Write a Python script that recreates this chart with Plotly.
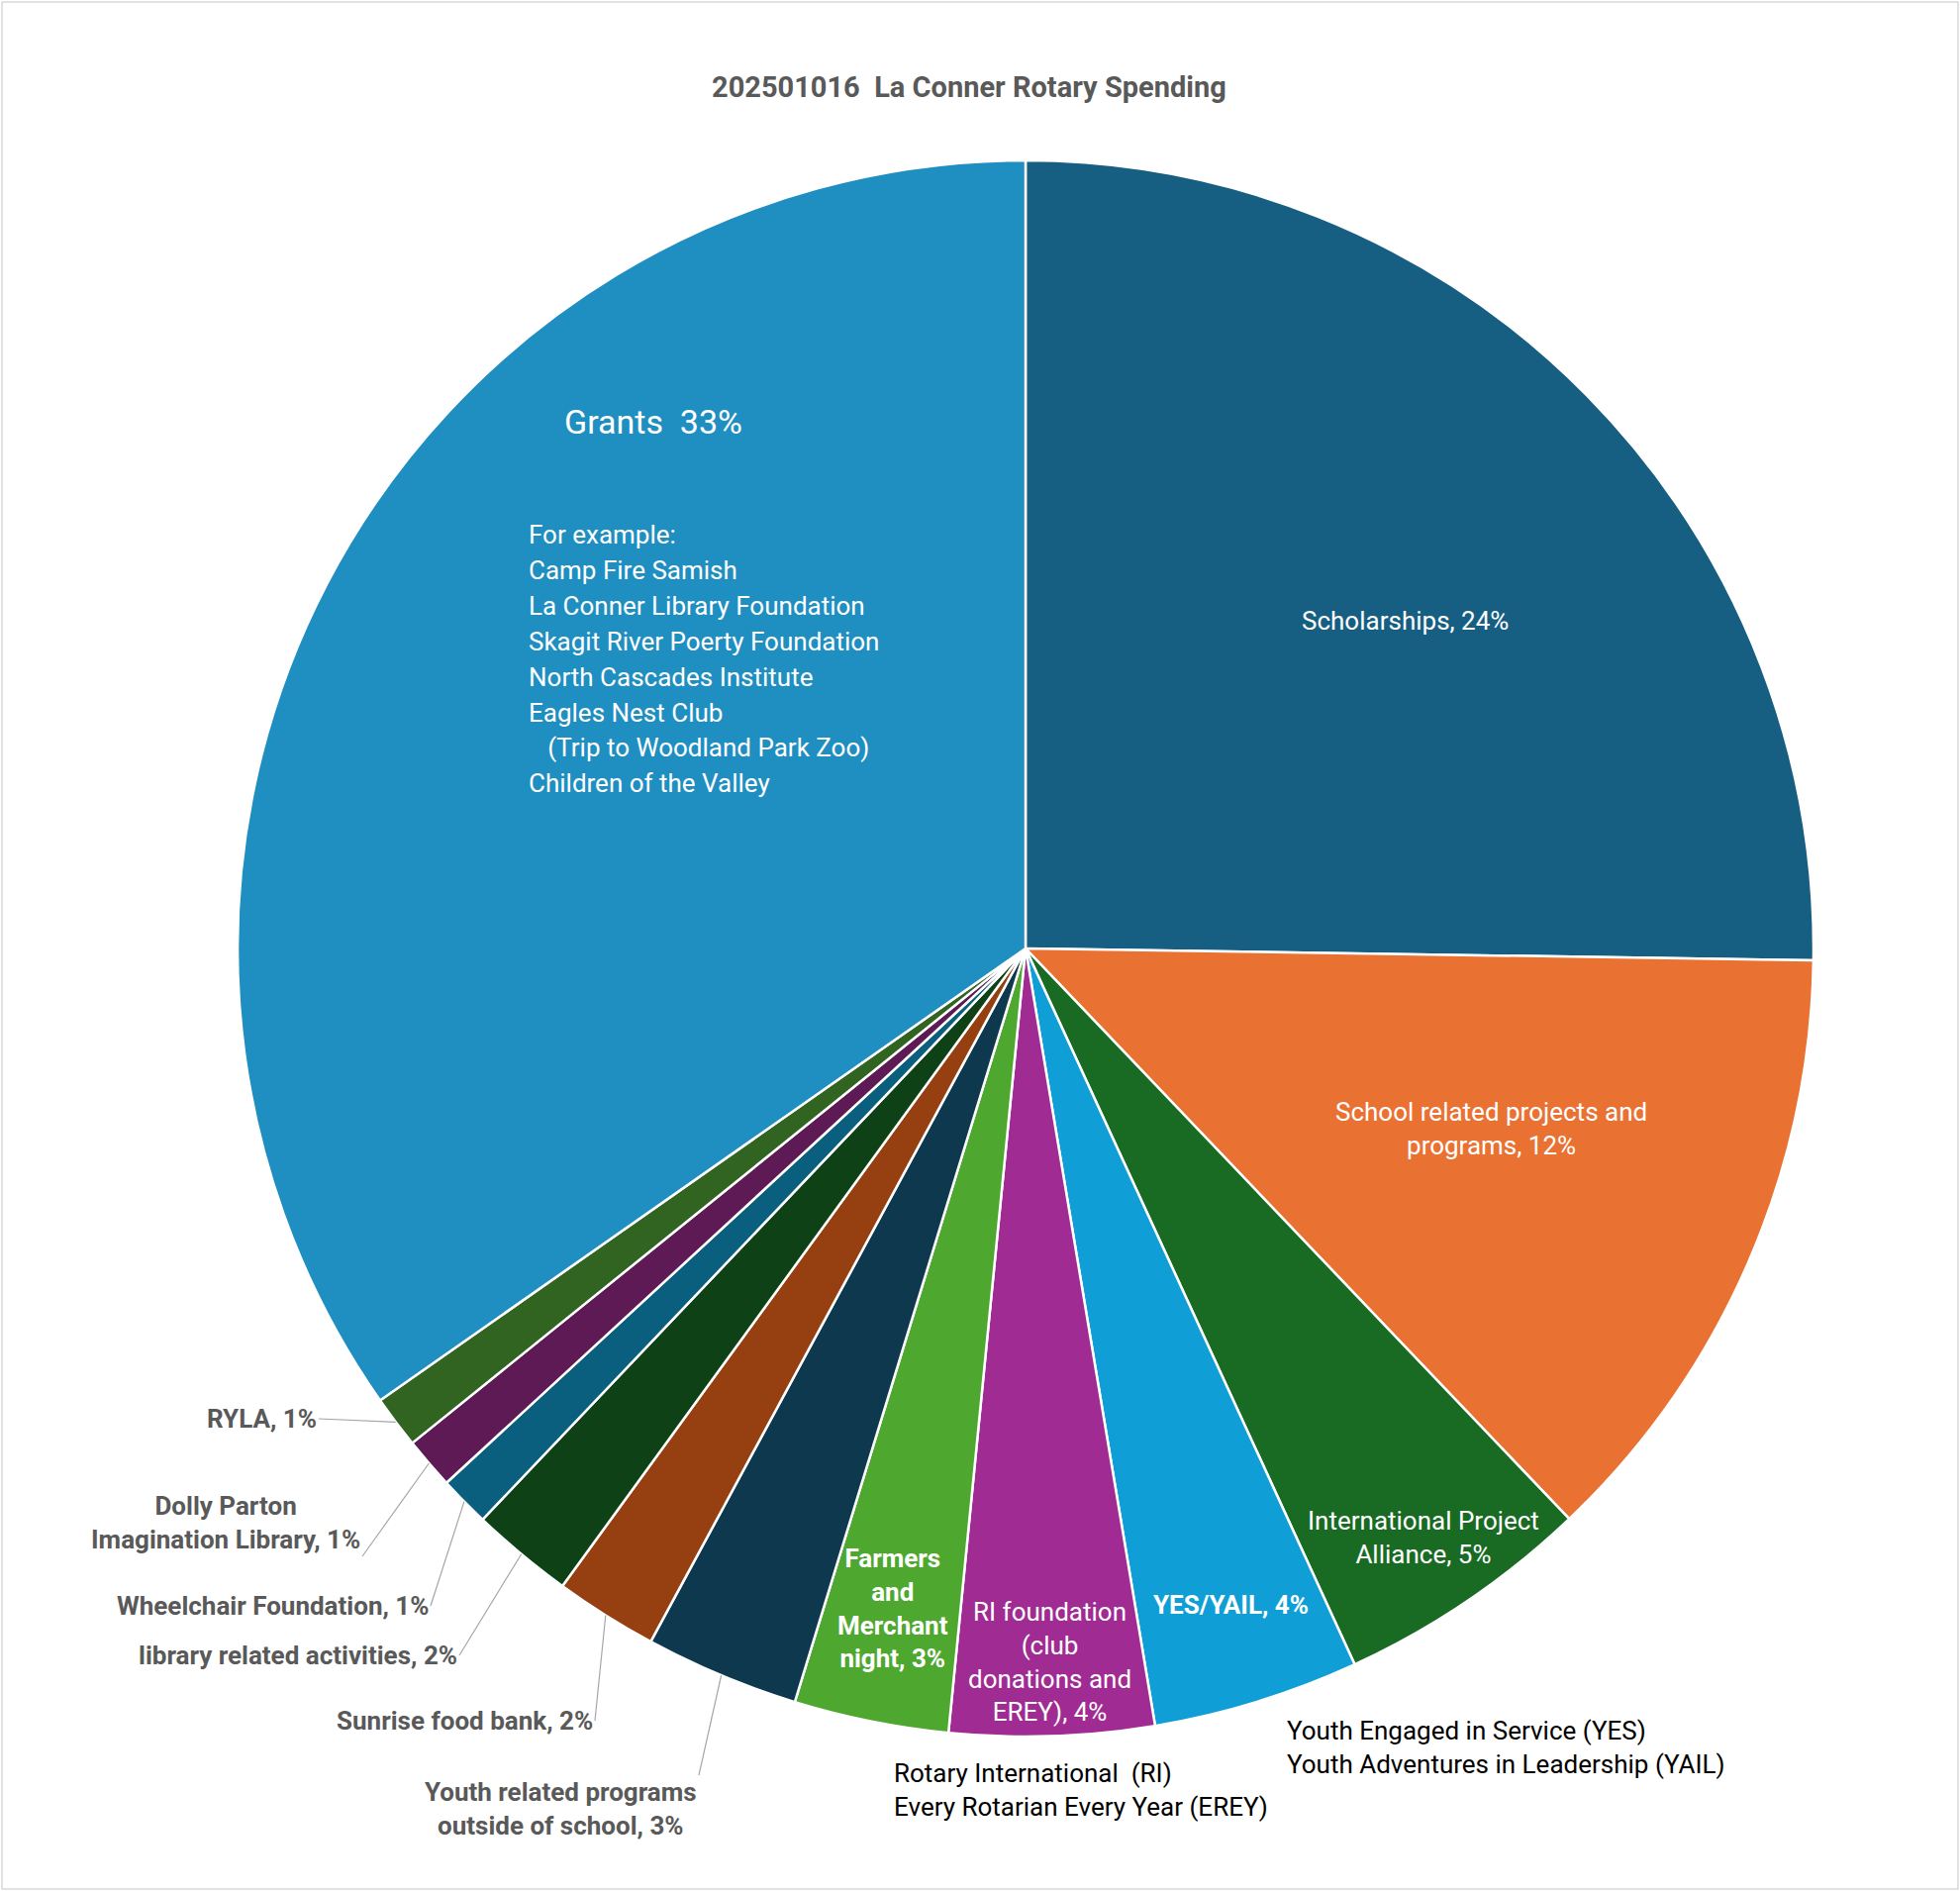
"""
La Conner Rotary spending pie
"""

import math
import plotly.graph_objects as go

# slices, clockwise from 12 o'clock
categories = [
    "Scholarships",
    "School related projects and programs",
    "International Project Alliance",
    "YES/YAIL",
    "RI foundation (club donations and EREY)",
    "Farmers and Merchant night",
    "Youth related programs outside of school",
    "Sunrise food bank",
    "library related activities",
    "Wheelchair Foundation",
    "Dolly Parton Imagination Library",
    "RYLA",
    "Grants",
]
shares = [25.24, 12.64, 5.26, 4.23, 4.19, 3.17, 3.16, 2.11, 2.10, 1.04, 1.06, 1.08, 34.72]
label_texts = [
    "Scholarships, 24%",
    "School related projects and<br>programs, 12%",
    "International Project<br>Alliance, 5%",
    "<b>YES/YAIL, 4%</b>",
    "RI foundation<br>(club<br>donations and<br>EREY), 4%",
    "<b>Farmers<br>and<br>Merchant<br>night, 3%</b>",
    "<b>Youth related programs<br>outside of school, 3%</b>",
    "<b>Sunrise food bank, 2%</b>",
    "<b>library related activities, 2%</b>",
    "<b>Wheelchair Foundation, 1%</b>",
    "<b>Dolly Parton<br>Imagination Library, 1%</b>",
    "<b>RYLA, 1%</b>",
    "",
]
grants_title = "Grants\u00a0\u00a033%"
grants_examples = [
    "For example:",
    "Camp Fire Samish",
    "La Conner Library Foundation",
    "Skagit River Poerty Foundation",
    "North Cascades Institute",
    "Eagles Nest Club",
    "\u00a0\u00a0\u00a0(Trip to Woodland Park Zoo)",
    "Children of the Valley",
]
note_ri = ["Rotary International\u00a0\u00a0(RI)", "Every Rotarian Every Year (EREY)"]
note_yes = ["Youth Engaged in Service (YES)", "Youth Adventures in Leadership (YAIL)"]
title = "202501016\u00a0\u00a0La Conner Rotary Spending"

colors = ["#165E82", "#E97132", "#196B24", "#0F9ED5", "#A02B93", "#4EA72E",
          "#0D384E", "#963F10", "#0F4117", "#0A5E7E", "#5E1A55", "#316321", "#1F8EC1"]

FONT = "Roboto, 'Noto Sans', sans-serif"
W, H = 1980, 1910
cx, cy, R = 1036, 958, 796


def px(x):
    return x / W


def py(y):
    return 1 - y / H


def edge_point(i):
    total = sum(shares)
    start = sum(shares[:i]) / total * 360
    mid = math.radians(start + shares[i] / total * 180)
    return cx + R * math.sin(mid), cy - R * math.cos(mid)


def text_box(x, y, text, size=26, color="white", xanchor="center", align="center"):
    return dict(x=px(x), y=py(y), text=text, showarrow=False, xanchor=xanchor, yanchor="middle",
                align=align, font=dict(family=FONT, size=size, color=color))


fig = go.Figure(go.Pie(
    labels=categories, values=shares, sort=False, direction="clockwise", rotation=0,
    marker=dict(colors=colors, line=dict(color="white", width=2.5)),
    textinfo="none", hoverinfo="label+percent", showlegend=False,
    domain=dict(x=[px(cx - R), px(cx + R)], y=[py(cy + R), py(cy - R)]),
))

annotations = []

# labels inside the slices
inside_pos = {0: (1419, 627), 1: (1506, 1140), 2: (1438, 1553), 3: (1243, 1621),
              4: (1060, 1678), 5: (902, 1624)}
for i, (x, y) in inside_pos.items():
    annotations.append(text_box(x, y, label_texts[i]))

# labels outside with leader lines: tail position and anchors
outside_pos = {6: (706, 1793, "right", "top"), 7: (601, 1738, "right", "middle"),
               8: (464, 1672, "right", "middle"), 9: (435, 1622, "right", "middle"),
               10: (366, 1572, "right", "bottom"), 11: (322, 1433, "right", "middle")}
for i, (tx, ty, xa, ya) in outside_pos.items():
    ex, ey = edge_point(i)
    annotations.append(dict(x=px(ex), y=py(ey), ax=tx - ex, ay=ty - ey, text=label_texts[i],
                            showarrow=True, arrowhead=0, arrowwidth=1.2, arrowcolor="#A6A6A6",
                            standoff=0, xanchor=xa, yanchor=ya, align="center",
                            font=dict(family=FONT, size=26, color="#595959")))

# grants text box
annotations.append(text_box(660, 426, grants_title, size=34))
for k, line in enumerate(grants_examples):
    annotations.append(text_box(532, 540 + k * 35.9, line, xanchor="left", align="left"))

annotations.append(text_box(901, 1808, "<br>".join(note_ri), color="black", xanchor="left", align="left"))
annotations.append(text_box(1298, 1765, "<br>".join(note_yes), color="black", xanchor="left", align="left"))
annotations.append(text_box(979, 88, "<b>" + title + "</b>", size=29, color="#595959"))

fig.update_layout(
    width=W, height=H, margin=dict(l=0, r=0, t=0, b=0),
    paper_bgcolor="white", plot_bgcolor="white",
    annotations=annotations,
    shapes=[dict(type="rect", xref="paper", yref="paper", x0=0.001, x1=0.999, y0=0.001, y1=0.999,
                 line=dict(color="#D9D9D9", width=1.5))],
)

fig.write_html("out.html", config={"displayModeBar": False},
               post_script="document.body.style.margin = '0';")
